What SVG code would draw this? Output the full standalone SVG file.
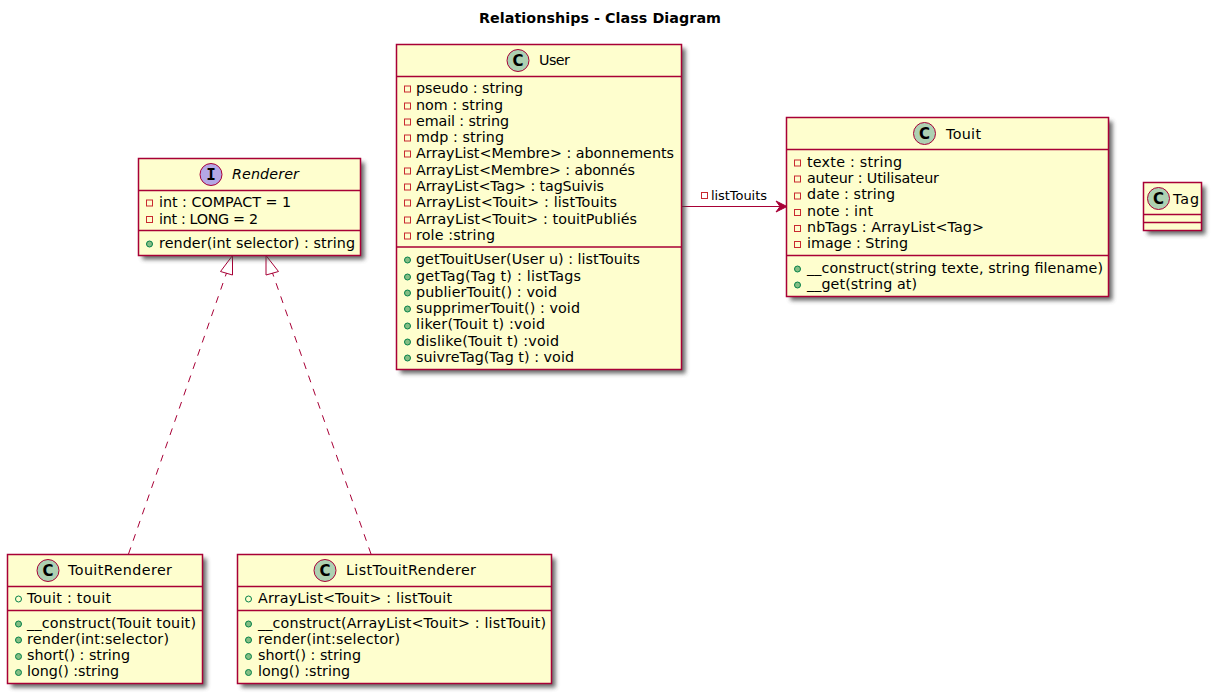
<svg xmlns="http://www.w3.org/2000/svg" width="1214" height="696" viewBox="0 0 1214 696">
<style>
text{font-family:"DejaVu Sans",sans-serif;font-size:14.3px;fill:#000}
.t{font-weight:bold}
.s{font-size:13px}
.b{fill:#FEFECE;stroke:#A80036;stroke-width:1.5}
.w{fill:#444;opacity:.8;filter:url(#sh)}
.h{stroke:#A80036;stroke-width:1.5;fill:none}
.c{fill:#ADD1B2;stroke:#A80036;stroke-width:1}
.i{fill:#B4A7E5;stroke:#A80036;stroke-width:1}
.g{font-family:"DejaVu Sans",sans-serif;font-weight:bold;font-size:15px;text-anchor:middle}
.m{font-family:"DejaVu Sans Mono",monospace;font-weight:bold;font-size:16px;text-anchor:middle}
.pr{fill:none;stroke:#C82930;stroke-width:1}
.pu{fill:none;stroke:#038048;stroke-width:1}
.pm{fill:#84BE84;stroke:#038048;stroke-width:1}
.l{fill:none;stroke:#A80036;stroke-width:1}
</style>
<defs>
<filter id="sh" x="-10%" y="-10%" width="120%" height="120%"><feGaussianBlur stdDeviation="2"/></filter>
</defs>
<text class="t" x="479" y="23" textLength="242">Relationships - Class Diagram</text>

<g id="connectors">
<path class="l" stroke-dasharray="7,7" d="M128.500 554 L226.500 273"/>
<path class="l" d="M232.500 255.500 L220.500 271.500 L232.500 275 Z"/>
<path class="l" stroke-dasharray="7,7" d="M371 554 L272.500 273"/>
<path class="l" d="M266 255.500 L266 275 L278.500 271.500 Z"/>
<path class="l" d="M682 206.500 L781 206.500"/>
<path d="M787 206.500 L776 201 L780 206.500 L776 212 Z" fill="#A80036" stroke="#A80036"/>
<rect class="pr" x="701.500" y="192.500" width="6" height="6"/>
<text class="s" x="711" y="200" textLength="56">listTouits</text>
</g>

<g id="Renderer">
<rect class="w" x="142.500" y="162.500" width="222" height="97"/>
<rect class="b" x="138.500" y="158.500" width="222" height="97"/>
<path class="h" d="M138.500 190.500H360.500M138.500 230.500H360.500"/>
<circle class="i" cx="211" cy="174.500" r="11"/>
<text class="m" x="211" y="180">I</text>
<text x="232" y="179" font-style="italic" textLength="67">Renderer</text>
<rect class="pr" x="146.500" y="200" width="6" height="6"/><text x="159" y="207" textLength="132">int : COMPACT = 1</text>
<rect class="pr" x="146.500" y="216.500" width="6" height="6"/><text x="159" y="224" textLength="99">int : LONG = 2</text>
<circle class="pm" cx="149.500" cy="244" r="3"/><text x="159" y="248" textLength="196">render(int selector) : string</text>
</g>

<g id="User">
<rect class="w" x="400.500" y="48.500" width="285" height="325"/>
<rect class="b" x="396.500" y="44.500" width="285" height="325"/>
<path class="h" d="M396.500 76.500H681.500M396.500 247H681.500"/>
<circle class="c" cx="518" cy="60.500" r="11"/>
<text class="g" x="518" y="66">C</text>
<text x="539" y="65" textLength="31">User</text>
<rect class="pr" x="404.500" y="86" width="6" height="6"/><text x="416" y="93" textLength="107">pseudo : string</text>
<rect class="pr" x="404.500" y="103" width="6" height="6"/><text x="416" y="110" textLength="87">nom : string</text>
<rect class="pr" x="404.500" y="119" width="6" height="6"/><text x="416" y="126" textLength="93">email : string</text>
<rect class="pr" x="404.500" y="135" width="6" height="6"/><text x="416" y="142" textLength="88">mdp : string</text>
<rect class="pr" x="404.500" y="151" width="6" height="6"/><text x="416" y="158" textLength="258">ArrayList&lt;Membre&gt; : abonnements</text>
<rect class="pr" x="404.500" y="168" width="6" height="6"/><text x="416" y="175" textLength="219">ArrayList&lt;Membre&gt; : abonnés</text>
<rect class="pr" x="404.500" y="184" width="6" height="6"/><text x="416" y="191" textLength="188">ArrayList&lt;Tag&gt; : tagSuivis</text>
<rect class="pr" x="404.500" y="200" width="6" height="6"/><text x="416" y="207" textLength="201">ArrayList&lt;Touit&gt; : listTouits</text>
<rect class="pr" x="404.500" y="217" width="6" height="6"/><text x="416" y="224" textLength="221">ArrayList&lt;Touit&gt; : touitPubliés</text>
<rect class="pr" x="404.500" y="233" width="6" height="6"/><text x="416" y="240" textLength="79">role :string</text>
<circle class="pm" cx="407.500" cy="260" r="3"/><text x="416" y="264" textLength="224">getTouitUser(User u) : listTouits</text>
<circle class="pm" cx="407.500" cy="277" r="3"/><text x="416" y="281" textLength="165">getTag(Tag t) : listTags</text>
<circle class="pm" cx="407.500" cy="293" r="3"/><text x="416" y="297" textLength="141">publierTouit() : void</text>
<circle class="pm" cx="407.500" cy="309" r="3"/><text x="416" y="313" textLength="164">supprimerTouit() : void</text>
<circle class="pm" cx="407.500" cy="326" r="3"/><text x="416" y="329" textLength="129">liker(Touit t) :void</text>
<circle class="pm" cx="407.500" cy="342" r="3"/><text x="416" y="346" textLength="143">dislike(Touit t) :void</text>
<circle class="pm" cx="407.500" cy="358" r="3"/><text x="416" y="362" textLength="158">suivreTag(Tag t) : void</text>
</g>

<g id="Touit">
<rect class="w" x="790.500" y="121.500" width="322" height="179"/>
<rect class="b" x="786.500" y="117.500" width="322" height="179"/>
<path class="h" d="M786.500 149.500H1108.500M786.500 255.500H1108.500"/>
<circle class="c" cx="924.500" cy="133.500" r="11"/>
<text class="g" x="924.500" y="139">C</text>
<text x="946" y="139" textLength="35">Touit</text>
<rect class="pr" x="794.500" y="160" width="6" height="6"/><text x="807" y="167" textLength="95">texte : string</text>
<rect class="pr" x="794.500" y="176" width="6" height="6"/><text x="807" y="183" textLength="132">auteur : Utilisateur</text>
<rect class="pr" x="794.500" y="193" width="6" height="6"/><text x="807" y="199" textLength="88">date : string</text>
<rect class="pr" x="794.500" y="209.500" width="6" height="6"/><text x="807" y="216" textLength="66">note : int</text>
<rect class="pr" x="794.500" y="225.500" width="6" height="6"/><text x="807" y="232" textLength="177">nbTags : ArrayList&lt;Tag&gt;</text>
<rect class="pr" x="794.500" y="241.500" width="6" height="6"/><text x="807" y="248" textLength="101">image : String</text>
<circle class="pm" cx="797.500" cy="269" r="3"/><text x="807" y="273" textLength="296">__construct(string texte, string filename)</text>
<circle class="pm" cx="797.500" cy="285" r="3"/><text x="807" y="289" textLength="110">__get(string at)</text>
</g>

<g id="Tag">
<rect class="w" x="1147.500" y="186.500" width="58" height="48"/>
<rect class="b" x="1143.500" y="182.500" width="58" height="48"/>
<path class="h" d="M1143.500 214.500H1201.500M1143.500 222.500H1201.500"/>
<circle class="c" cx="1158.500" cy="198.500" r="11"/>
<text class="g" x="1158.500" y="204">C</text>
<text x="1173" y="204" textLength="26">Tag</text>
</g>

<g id="TouitRenderer">
<rect class="w" x="11.500" y="558.500" width="195" height="129"/>
<rect class="b" x="7.500" y="554.500" width="195" height="129"/>
<path class="h" d="M7.500 586.500H202.500M7.500 610.500H202.500"/>
<circle class="c" cx="48" cy="570.500" r="11"/>
<text class="g" x="48" y="576">C</text>
<text x="68" y="575" textLength="104">TouitRenderer</text>
<circle class="pu" cx="18.500" cy="599" r="3"/><text x="27" y="603" textLength="84">Touit : touit</text>
<circle class="pm" cx="18.500" cy="624" r="3"/><text x="27" y="628" textLength="169">__construct(Touit touit)</text>
<circle class="pm" cx="18.500" cy="640" r="3"/><text x="27" y="644" textLength="142">render(int:selector)</text>
<circle class="pm" cx="18.500" cy="656.500" r="3"/><text x="27" y="660" textLength="103">short() : string</text>
<circle class="pm" cx="18.500" cy="672.500" r="3"/><text x="27" y="676" textLength="92">long() :string</text>
</g>

<g id="ListTouitRenderer">
<rect class="w" x="241.500" y="558.500" width="314" height="129"/>
<rect class="b" x="237.500" y="554.500" width="314" height="129"/>
<path class="h" d="M237.500 586.500H551.500M237.500 610.500H551.500"/>
<circle class="c" cx="325" cy="570.500" r="11"/>
<text class="g" x="325" y="576">C</text>
<text x="346" y="575" textLength="130">ListTouitRenderer</text>
<circle class="pu" cx="248.500" cy="599" r="3"/><text x="258" y="603" textLength="194">ArrayList&lt;Touit&gt; : listTouit</text>
<circle class="pm" cx="248.500" cy="624" r="3"/><text x="258" y="628" textLength="288">__construct(ArrayList&lt;Touit&gt; : listTouit)</text>
<circle class="pm" cx="248.500" cy="640" r="3"/><text x="258" y="644" textLength="142">render(int:selector)</text>
<circle class="pm" cx="248.500" cy="656.500" r="3"/><text x="258" y="660" textLength="103">short() : string</text>
<circle class="pm" cx="248.500" cy="672.500" r="3"/><text x="258" y="676" textLength="92">long() :string</text>
</g>
</svg>
